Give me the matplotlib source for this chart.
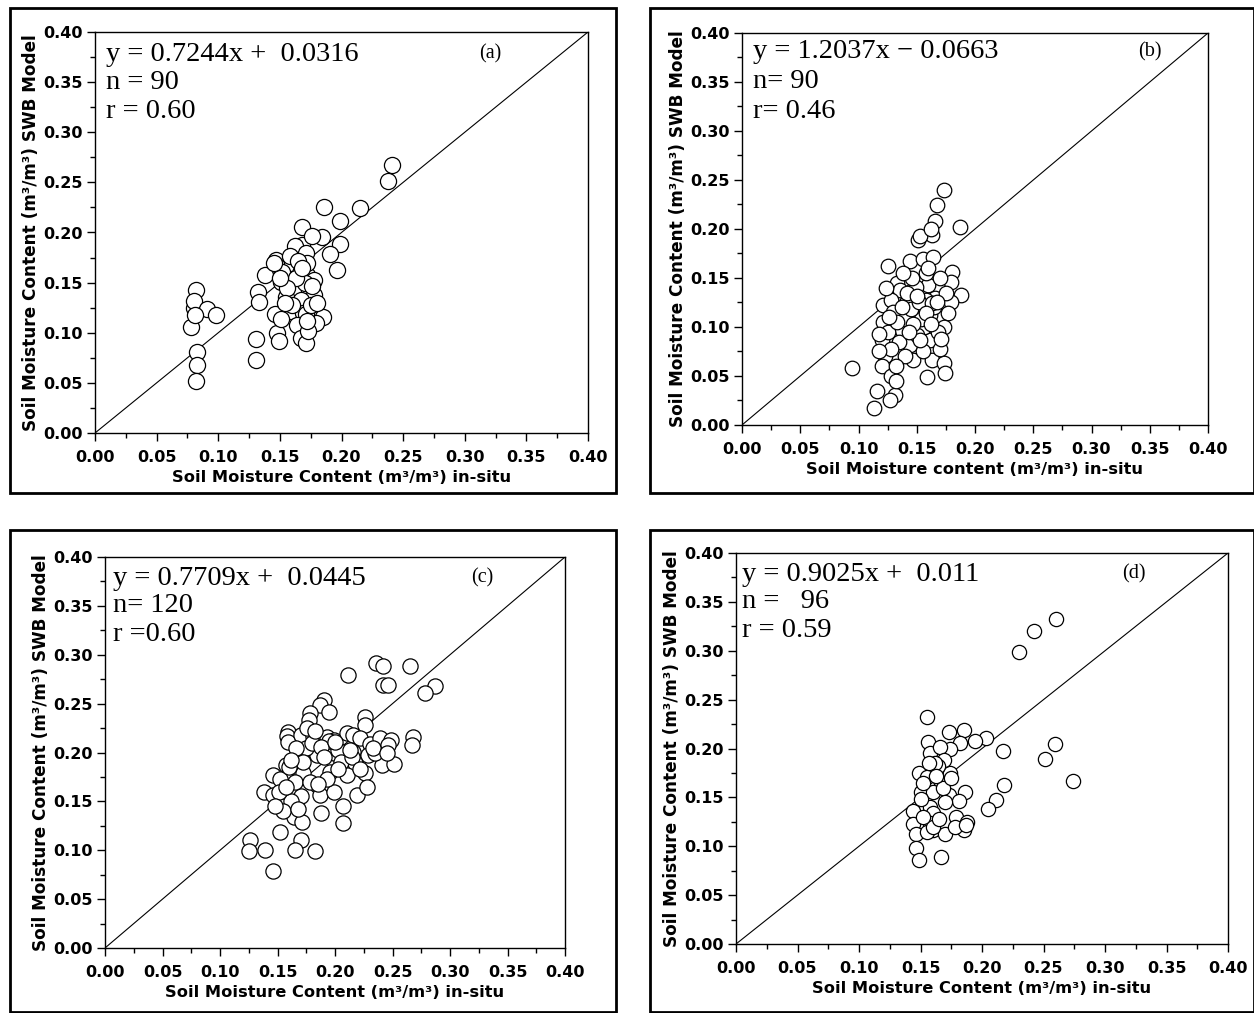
import matplotlib
matplotlib.use("Agg")
import matplotlib.pyplot as plt
from matplotlib.patches import Rectangle
from matplotlib.ticker import MultipleLocator, FormatStrFormatter

# ---------------- data ----------------
a_x = [0.241, 0.238, 0.215, 0.186, 0.199, 0.199, 0.184, 0.191, 0.196, 0.168,
       0.168, 0.162, 0.171, 0.176, 0.147, 0.148, 0.160, 0.138, 0.152, 0.151,
       0.166, 0.172, 0.178, 0.165, 0.174, 0.178, 0.155, 0.167, 0.132, 0.133,
       0.146, 0.159, 0.169, 0.185, 0.179, 0.171, 0.164, 0.148, 0.149, 0.167,
       0.171, 0.173, 0.151, 0.131, 0.131, 0.082, 0.080, 0.080, 0.078, 0.091,
       0.098, 0.083, 0.083, 0.082, 0.170, 0.158, 0.163, 0.175, 0.156, 0.160,
       0.172, 0.180, 0.150, 0.165, 0.172, 0.176, 0.154, 0.168, 0.145, 0.081]
a_y = [0.267, 0.251, 0.224, 0.225, 0.211, 0.189, 0.196, 0.179, 0.163, 0.205,
       0.188, 0.187, 0.180, 0.197, 0.173, 0.167, 0.170, 0.158, 0.161, 0.151,
       0.160, 0.158, 0.153, 0.144, 0.141, 0.138, 0.136, 0.133, 0.141, 0.131,
       0.119, 0.122, 0.120, 0.116, 0.110, 0.119, 0.108, 0.100, 0.092, 0.095,
       0.090, 0.102, 0.114, 0.094, 0.073, 0.143, 0.125, 0.132, 0.106, 0.124,
       0.118, 0.081, 0.068, 0.052, 0.150, 0.177, 0.155, 0.128, 0.145, 0.128,
       0.170, 0.130, 0.155, 0.172, 0.112, 0.147, 0.130, 0.165, 0.170, 0.118]

b_x = [0.173, 0.167, 0.166, 0.163, 0.151, 0.187, 0.144, 0.155, 0.164, 0.125,
       0.180, 0.179, 0.160, 0.133, 0.149, 0.188, 0.179, 0.131, 0.141, 0.156,
       0.121, 0.177, 0.161, 0.121, 0.137, 0.173, 0.161, 0.120, 0.144, 0.161,
       0.123, 0.147, 0.163, 0.173, 0.120, 0.128, 0.159, 0.174, 0.094, 0.116,
       0.131, 0.127, 0.113, 0.153, 0.162, 0.158, 0.136, 0.128, 0.146, 0.166,
       0.158, 0.150, 0.130, 0.140, 0.156, 0.168, 0.125, 0.135, 0.150, 0.170,
       0.128, 0.140, 0.155, 0.132, 0.165, 0.146, 0.138, 0.124, 0.175, 0.160,
       0.154, 0.132, 0.118, 0.170, 0.145, 0.142, 0.152, 0.163, 0.133, 0.147,
       0.158, 0.167, 0.126, 0.137, 0.153, 0.162, 0.143, 0.118, 0.171, 0.150]
b_y = [0.240, 0.224, 0.208, 0.194, 0.189, 0.202, 0.167, 0.169, 0.171, 0.162,
       0.156, 0.146, 0.143, 0.145, 0.141, 0.133, 0.126, 0.131, 0.124, 0.121,
       0.122, 0.114, 0.112, 0.105, 0.097, 0.100, 0.092, 0.087, 0.082, 0.087,
       0.070, 0.066, 0.066, 0.063, 0.060, 0.050, 0.049, 0.053, 0.058, 0.035,
       0.031, 0.026, 0.017, 0.193, 0.200, 0.155, 0.138, 0.128, 0.128, 0.130,
       0.128, 0.112, 0.115, 0.108, 0.100, 0.095, 0.095, 0.085, 0.092, 0.078,
       0.078, 0.070, 0.075, 0.060, 0.120, 0.150, 0.155, 0.140, 0.135, 0.160,
       0.108, 0.045, 0.075, 0.150, 0.118, 0.135, 0.125, 0.124, 0.105, 0.103,
       0.114, 0.126, 0.110, 0.120, 0.087, 0.103, 0.095, 0.093, 0.088, 0.132]

c_x = [0.236, 0.242, 0.265, 0.211, 0.242, 0.246, 0.287, 0.278, 0.190, 0.187,
       0.195, 0.178, 0.177, 0.226, 0.226, 0.159, 0.158, 0.159, 0.170, 0.181,
       0.193, 0.199, 0.210, 0.216, 0.222, 0.230, 0.239, 0.249, 0.246, 0.268,
       0.267, 0.170, 0.184, 0.199, 0.203, 0.216, 0.229, 0.217, 0.241, 0.251,
       0.157, 0.196, 0.210, 0.226, 0.146, 0.158, 0.172, 0.138, 0.146, 0.170,
       0.184, 0.187, 0.199, 0.219, 0.228, 0.154, 0.164, 0.171, 0.188, 0.207,
       0.207, 0.152, 0.126, 0.170, 0.125, 0.139, 0.165, 0.183, 0.146, 0.152,
       0.165, 0.175, 0.195, 0.235, 0.162, 0.151, 0.155, 0.172, 0.205, 0.180,
       0.215, 0.160, 0.148, 0.188, 0.222, 0.176, 0.166, 0.183, 0.200, 0.233,
       0.213, 0.190, 0.157, 0.178, 0.245, 0.162, 0.193, 0.203, 0.168, 0.185]
c_y = [0.292, 0.288, 0.288, 0.279, 0.269, 0.269, 0.268, 0.261, 0.254, 0.249,
       0.241, 0.240, 0.233, 0.236, 0.228, 0.221, 0.217, 0.211, 0.218, 0.217,
       0.216, 0.213, 0.220, 0.218, 0.215, 0.209, 0.215, 0.213, 0.208, 0.216,
       0.208, 0.196, 0.197, 0.199, 0.203, 0.201, 0.197, 0.189, 0.187, 0.188,
       0.187, 0.180, 0.177, 0.179, 0.177, 0.174, 0.179, 0.160, 0.157, 0.155,
       0.167, 0.157, 0.160, 0.157, 0.165, 0.145, 0.134, 0.129, 0.138, 0.145,
       0.128, 0.119, 0.110, 0.110, 0.099, 0.100, 0.100, 0.099, 0.079, 0.173,
       0.170, 0.205, 0.212, 0.200, 0.150, 0.160, 0.140, 0.190, 0.190, 0.210,
       0.195, 0.185, 0.145, 0.206, 0.183, 0.225, 0.205, 0.222, 0.211, 0.205,
       0.203, 0.195, 0.165, 0.170, 0.200, 0.192, 0.173, 0.183, 0.142, 0.168]

d_x = [0.260, 0.242, 0.230, 0.274, 0.259, 0.251, 0.217, 0.218, 0.211, 0.205,
       0.203, 0.194, 0.185, 0.173, 0.182, 0.174, 0.155, 0.156, 0.158, 0.166,
       0.149, 0.163, 0.155, 0.166, 0.174, 0.150, 0.160, 0.173, 0.186, 0.181,
       0.144, 0.158, 0.160, 0.179, 0.188, 0.144, 0.158, 0.160, 0.170, 0.185,
       0.146, 0.146, 0.149, 0.167, 0.155, 0.169, 0.164, 0.152, 0.162, 0.168,
       0.170, 0.178, 0.150, 0.160, 0.165, 0.157, 0.175, 0.152, 0.163, 0.187]
d_y = [0.332, 0.320, 0.299, 0.167, 0.205, 0.189, 0.197, 0.163, 0.147, 0.138,
       0.211, 0.208, 0.219, 0.217, 0.206, 0.199, 0.232, 0.207, 0.195, 0.202,
       0.175, 0.178, 0.171, 0.168, 0.175, 0.156, 0.156, 0.152, 0.155, 0.146,
       0.136, 0.140, 0.134, 0.130, 0.125, 0.123, 0.124, 0.117, 0.113, 0.117,
       0.113, 0.098, 0.086, 0.089, 0.115, 0.188, 0.182, 0.165, 0.185, 0.160,
       0.145, 0.120, 0.148, 0.120, 0.128, 0.185, 0.170, 0.130, 0.172, 0.122]

panels = [
    dict(x=a_x, y=a_y, rect=(95, 588, 32, 433), frame=(10, 616, 8, 493),
         eq=["y = 0.7244x +  0.0316", "n = 90", "r = 0.60"], tag="(a)",
         tagx=0.78, eqx=0.022, eqy=[0.945, 0.873, 0.801],
         xlabel="Soil Moisture Content (m³/m³) in-situ", ms=135),
    dict(x=b_x, y=b_y, rect=(742, 1208, 33, 425), frame=(650, 1254, 8, 493),
         eq=["y = 1.2037x − 0.0663", "n= 90", "r= 0.46"], tag="(b)",
         tagx=0.85, eqx=0.024, eqy=[0.952, 0.875, 0.801],
         xlabel="Soil Moisture content (m³/m³) in-situ", ms=110),
    dict(x=c_x, y=c_y, rect=(105, 565, 557, 948), frame=(10, 616, 530, 1012),
         eq=["y = 0.7709x +  0.0445", "n= 120", "r =0.60"], tag="(c)",
         tagx=0.795, eqx=0.017, eqy=[0.946, 0.875, 0.803],
         xlabel="Soil Moisture Content (m³/m³) in-situ", ms=120),
    dict(x=d_x, y=d_y, rect=(736, 1228, 553, 944), frame=(650, 1254, 530, 1012),
         eq=["y = 0.9025x +  0.011", "n =   96", "r = 0.59"], tag="(d)",
         tagx=0.785, eqx=0.012, eqy=[0.946, 0.875, 0.801],
         xlabel="Soil Moisture Content (m³/m³) in-situ", ms=105),
]

W, H = 1254, 1013
fig = plt.figure(figsize=(W / 100, H / 100), dpi=100)
ylabel = "Soil Moisture Content (m³/m³) SWB Model"
serif = ["Liberation Serif", "DejaVu Serif"]

for p in panels:
    l, r, t, b = p["rect"]
    ax = fig.add_axes([l / W, 1 - b / H, (r - l) / W, (b - t) / H])
    ax.plot([0, 0.4], [0, 0.4], color="black", lw=0.8, zorder=1)
    ax.scatter(p["x"], p["y"], s=p["ms"], facecolors="white",
               edgecolors="black", linewidths=0.9, zorder=2)
    ax.set_xlim(0, 0.4)
    ax.set_ylim(0, 0.4)
    ax.xaxis.set_major_locator(MultipleLocator(0.05))
    ax.yaxis.set_major_locator(MultipleLocator(0.05))
    ax.xaxis.set_minor_locator(MultipleLocator(0.025))
    ax.yaxis.set_minor_locator(MultipleLocator(0.025))
    ax.xaxis.set_major_formatter(FormatStrFormatter("%.2f"))
    ax.yaxis.set_major_formatter(FormatStrFormatter("%.2f"))
    ax.tick_params(which="major", direction="out", length=6, width=1,
                   top=False, right=False)
    ax.tick_params(axis="x", which="major", pad=6)
    ax.tick_params(axis="y", which="major", pad=3)
    ax.tick_params(which="minor", direction="out", length=3.5, width=1,
                   top=False, right=False)
    for lab in ax.get_xticklabels() + ax.get_yticklabels():
        lab.set_fontfamily("DejaVu Sans")
        lab.set_fontweight("bold")
        lab.set_fontsize(11.5)
    for sp in ax.spines.values():
        sp.set_linewidth(1.0)
    ax.set_xlabel(p["xlabel"], fontsize=11.7, fontweight="bold",
                  family="DejaVu Sans", labelpad=4)
    ax.set_ylabel(ylabel, fontsize=12.2, fontweight="bold",
                  family="DejaVu Sans", labelpad=2)
    for txt, yy in zip(p["eq"], p["eqy"]):
        ax.text(p["eqx"], yy, txt, transform=ax.transAxes, family=serif,
                fontsize=20.5, va="center", ha="left")
    ax.text(p["tagx"], p["eqy"][0], p["tag"], transform=ax.transAxes,
            family=serif, fontsize=14.5, va="center", ha="left")
    fl, fr, ft, fb = p["frame"]
    fig.add_artist(Rectangle((fl / W, 1 - fb / H), (fr - fl) / W, (fb - ft) / H,
                             transform=fig.transFigure, fill=False,
                             edgecolor="black", lw=2))

fig.savefig("out.png", dpi=100)
